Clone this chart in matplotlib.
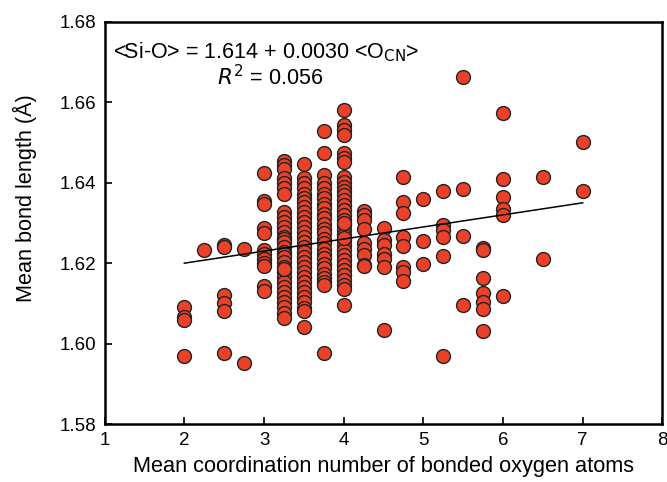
import matplotlib
matplotlib.use("Agg")
import matplotlib.pyplot as plt
import numpy as np

plt.rcParams['font.family'] = ['Liberation Sans', 'DejaVu Sans']

# Data: (coordination number, mean bond length) grouped by x
x_2 = [2.0] * 4
y_2 = [1.6092, 1.6066, 1.6060, 1.5970]
x_225 = [2.25]
y_225 = [1.6232]
x_25 = [2.5] * 6
y_25 = [1.6245, 1.6240, 1.6122, 1.6100, 1.6082, 1.5978]
x_275 = [2.75] * 2
y_275 = [1.6235, 1.5952]
x_3 = [3.0] * 12
y_3 = [1.6423, 1.6355, 1.6347, 1.6288, 1.6275, 1.6232, 1.6222, 1.6210, 1.6200,
       1.6192, 1.6144, 1.6132]
x_325 = [3.25] * 32
y_325 = [1.6454, 1.6444, 1.6433, 1.6411, 1.6398, 1.6386, 1.6373, 1.6328, 1.6315,
         1.6303, 1.6290, 1.6278, 1.6266, 1.6260, 1.6253, 1.6241, 1.6228, 1.6222,
         1.6216, 1.6203, 1.6191, 1.6179, 1.6166, 1.6154, 1.6141, 1.6129, 1.6116,
         1.6104, 1.6092, 1.6075, 1.6063, 1.6185]
x_35 = [3.5] * 30
y_35 = [1.6446, 1.6411, 1.6398, 1.6386, 1.6373, 1.6361, 1.6353, 1.6340, 1.6328,
        1.6315, 1.6303, 1.6290, 1.6278, 1.6266, 1.6253, 1.6241, 1.6228, 1.6216,
        1.6203, 1.6191, 1.6179, 1.6166, 1.6154, 1.6141, 1.6129, 1.6116, 1.6104,
        1.6088, 1.6080, 1.6042]
x_375 = [3.75] * 26
y_375 = [1.6528, 1.6473, 1.6419, 1.6398, 1.6386, 1.6373, 1.6361, 1.6348, 1.6336,
         1.6323, 1.6311, 1.6298, 1.6286, 1.6274, 1.6261, 1.6249, 1.6236, 1.6224,
         1.6212, 1.6199, 1.6187, 1.6174, 1.6162, 1.6154, 1.6145, 1.5978]
x_4 = [4.0] * 34
y_4 = [1.6581, 1.6543, 1.6531, 1.6518, 1.6473, 1.6461, 1.6452, 1.6415, 1.6402,
       1.6390, 1.6380, 1.6369, 1.6356, 1.6344, 1.6331, 1.6320, 1.6307, 1.6295,
       1.6282, 1.6270, 1.6257, 1.6245, 1.6232, 1.6220, 1.6208, 1.6195, 1.6183,
       1.6170, 1.6158, 1.6146, 1.6137, 1.6096, 1.6300, 1.6262]
x_425 = [4.25] * 9
y_425 = [1.6330, 1.6320, 1.6307, 1.6286, 1.6249, 1.6236, 1.6220, 1.6195, 1.6192]
x_45 = [4.5] * 7
y_45 = [1.6288, 1.6257, 1.6245, 1.6224, 1.6210, 1.6191, 1.6035]
x_475 = [4.75] * 8
y_475 = [1.6415, 1.6351, 1.6324, 1.6266, 1.6242, 1.6191, 1.6179, 1.6155]
x_5 = [5.0] * 3
y_5 = [1.6359, 1.6255, 1.6198]
x_525 = [5.25] * 6
y_525 = [1.6380, 1.6295, 1.6282, 1.6264, 1.6218, 1.5970]
x_55 = [5.5] * 4
y_55 = [1.6662, 1.6384, 1.6267, 1.6096]
x_575 = [5.75] * 7
y_575 = [1.6238, 1.6232, 1.6162, 1.6127, 1.6104, 1.6086, 1.6031]
x_6 = [6.0] * 6
y_6 = [1.6572, 1.6409, 1.6365, 1.6334, 1.6319, 1.6118]
x_65 = [6.5] * 2
y_65 = [1.6415, 1.6210]
x_7 = [7.0] * 2
y_7 = [1.6500, 1.6380]

fit_intercept = 1.614
fit_slope = 0.0030
fit_x = [2.0, 7.0]

x_all = (x_2 + x_225 + x_25 + x_275 + x_3 + x_325 + x_35 + x_375 + x_4 + x_425 +
         x_45 + x_475 + x_5 + x_525 + x_55 + x_575 + x_6 + x_65 + x_7)
y_all = (y_2 + y_225 + y_25 + y_275 + y_3 + y_325 + y_35 + y_375 + y_4 + y_425 +
         y_45 + y_475 + y_5 + y_525 + y_55 + y_575 + y_6 + y_65 + y_7)

fig = plt.figure(figsize=(6.67, 4.82), dpi=100)
ax = fig.add_axes([0.157, 0.120, 0.836, 0.835])

ax.scatter(x_all, y_all, s=100, facecolor='#EA4128', edgecolor='#222222',
           linewidth=1.0, zorder=3)
fx = np.array(fit_x)
ax.plot(fx, fit_intercept + fit_slope * fx, color='black', lw=1.1, zorder=4)

ax.set_xlim(1, 8)
ax.set_ylim(1.58, 1.68)
ax.set_xticks([1, 2, 3, 4, 5, 6, 7, 8])
ax.set_yticks([1.58, 1.60, 1.62, 1.64, 1.66, 1.68])
ax.yaxis.set_major_formatter(matplotlib.ticker.FormatStrFormatter('%.2f'))
ax.tick_params(direction='in', length=5, width=1.2, labelsize=13.5, pad=6)
for sp in ax.spines.values():
    sp.set_linewidth(1.8)

ax.set_xlabel('Mean coordination number of bonded oxygen atoms', fontsize=15.7, labelpad=5)
ax.set_ylabel('Mean bond length (Å)', fontsize=15.6, labelpad=8)
ax.yaxis.set_label_coords(-0.122, 0.562)

ax.text(0.014, 0.925, '<Si-O> = 1.614 + 0.0030 <O$_{\\rm CN}$>', transform=ax.transAxes,
        fontsize=15.5, ha='left', va='center')
ax.text(0.297, 0.86, '$R^{\\rm 2}$ = 0.056', transform=ax.transAxes,
        fontsize=15.5, ha='center', va='center')

fig.savefig('out.png', dpi=100)
